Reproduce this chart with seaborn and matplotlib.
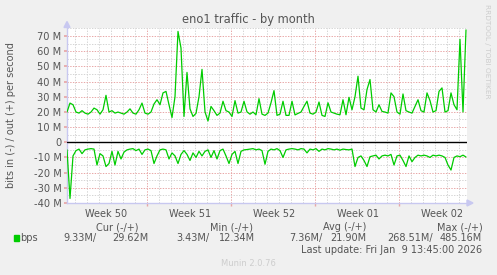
import matplotlib
matplotlib.use("Agg")
import numpy as np
import pandas as pd
import seaborn as sns
import matplotlib.pyplot as plt
from matplotlib.patches import Polygon, Rectangle

# ---------------- data (Mbit/s, one sample every 6 hours) ----------------
step_days = 0.25
out_mbps = [19.9, 25.8, 24.7, 19.9, 19.2, 20.8, 19.2, 18.5, 19.9, 22.5,
            21.4, 18.5, 21.4, 30.9, 19.9, 20.8, 19.2, 19.9, 19.2, 18.5,
            19.9, 22.0, 19.2, 18.5, 21.4, 25.8, 19.2, 18.5, 19.9, 25.2,
            28.0, 24.7, 32.5, 33.5, 24.7, 16.3, 30.0, 73.0, 62.0, 17.0,
            46.0, 22.0, 17.0, 19.0, 30.0, 48.0, 20.0, 14.0, 23.6, 20.8,
            17.7, 19.2, 27.0, 20.8, 19.9, 17.0, 27.4, 19.2, 19.9, 27.0,
            20.0, 18.5, 19.9, 18.1, 28.7, 18.5, 17.7, 19.2, 26.0, 34.0,
            17.7, 18.5, 27.0, 17.7, 17.7, 27.0, 18.0, 19.0, 19.9, 23.6,
            27.0, 19.2, 18.5, 19.9, 26.5, 17.7, 17.0, 26.0, 19.9, 19.2,
            18.5, 18.1, 28.0, 18.1, 29.6, 21.4, 30.0, 43.5, 22.5, 21.4,
            34.7, 41.3, 21.4, 19.9, 24.7, 20.3, 19.9, 19.2, 32.5, 30.0,
            19.9, 18.5, 31.8, 20.8, 19.9, 19.2, 23.6, 28.0, 20.8, 19.9,
            32.5, 27.4, 19.9, 20.8, 33.5, 35.8, 19.9, 20.8, 32.5, 24.7,
            21.4, 67.8, 20.0, 74.0]
in_mbps = [5.0, 37.0, 9.0, 5.5, 4.5, 7.5, 5.0, 4.5, 4.2, 4.5,
           15.0, 7.5, 9.0, 16.0, 14.0, 6.0, 15.0, 6.0, 11.0, 6.5,
           5.0, 4.5, 4.2, 5.5, 4.5, 8.0, 5.0, 4.5, 5.5, 14.0,
           9.0, 5.0, 4.5, 5.0, 11.0, 7.0, 9.0, 14.0, 8.0, 5.5,
           8.0, 12.0, 7.0, 10.0, 6.0, 9.0, 6.0, 5.0, 10.0, 5.5,
           11.0, 5.5, 4.5, 9.0, 14.0, 8.0, 6.0, 14.0, 6.0, 5.0,
           4.8, 4.5, 4.2, 5.0, 4.5, 5.5, 14.5, 6.0, 4.5, 5.0,
           4.2, 5.5, 10.0, 5.0, 4.5, 4.2, 4.5, 5.0, 4.2, 4.5,
           7.0, 4.5, 5.0, 4.2, 6.0, 4.5, 5.0, 4.2, 4.5, 5.0,
           4.5, 5.2, 4.5, 4.8, 5.0, 4.5, 16.0, 10.0, 9.0, 12.0,
           16.0, 9.5, 9.0, 8.5, 11.0, 9.0, 8.5, 9.0, 8.0, 15.0,
           9.0, 8.5, 12.0, 16.0, 9.0, 12.8, 10.0, 8.5, 9.0, 8.5,
           9.0, 10.0, 8.5, 9.0, 8.5, 9.0, 10.0, 15.0, 18.3, 10.0,
           9.0, 9.5, 8.5, 9.7]

week_labels = ["Week 50", "Week 51", "Week 52", "Week 01", "Week 02"]
week_label_days = [3.25, 10.25, 17.25, 24.25, 31.25]
week_start_days = [6.69, 13.69, 20.69, 27.69]
y_ticks = [-40, -30, -20, -10, 0, 10, 20, 30, 40, 50, 60, 70]
y_tick_labels = ["-40 M", "-30 M", "-20 M", "-10 M", "0", "10 M", "20 M",
                 "30 M", "40 M", "50 M", "60 M", "70 M"]

title = "eno1 traffic - by month"
ylabel = "bits in (-) / out (+) per second"
legend_name = "bps"
legend_headers = ["Cur (-/+)", "Min (-/+)", "Avg (-/+)", "Max (-/+)"]
legend_values = [("9.33M/", "29.62M"), ("3.43M/", "12.34M"),
                 ("7.36M/", "21.90M"), ("268.51M/", "485.16M")]
last_update = "Last update: Fri Jan  9 13:45:00 2026"
footer = "Munin 2.0.76"
side_text = "RRDTOOL / TOBI OETIKER"

# ---------------- figure ----------------
sns.set_theme(style="white")
plt.rcParams["font.family"] = ["DejaVu Sans"]

W, H = 497, 275
BG = "#F0F0F0"
TXT = "#555555"
GREEN = "#00CC00"

fig = plt.figure(figsize=(W / 100, H / 100), dpi=100, facecolor=BG)
ax = fig.add_axes([67 / W, 72 / H, 400 / W, 175.4 / H])
ax.set_facecolor("white")

n = len(out_mbps)
days = np.arange(n) * step_days
df = pd.DataFrame({"day": days, "out": out_mbps, "in": -np.asarray(in_mbps)})

x_end = 400 / 12.0
y_lo, y_hi = -40, 75.5

# grid
minor_col = "#D4D4D4"
major_col = "#E8A6A6"
dot = (0, (1.4, 1.4))
for d in np.arange(0.69, x_end, 1.0):
    if not any(abs(d - w) < 0.01 for w in week_start_days):
        ax.axvline(d, color=minor_col, lw=0.7, ls=dot, zorder=1)
for d in week_start_days:
    ax.axvline(d, color=major_col, lw=0.7, ls=dot, zorder=1)
for v in np.arange(-35, 76, 10):
    ax.axhline(v, color=minor_col, lw=0.7, ls=dot, zorder=1)
for v in y_ticks:
    if v != 0:
        ax.axhline(v, color=major_col, lw=0.7, ls=dot, zorder=1)
ax.axhline(0, color="black", lw=1.0, zorder=3)

sns.lineplot(data=df, x="day", y="out", color=GREEN, lw=0.9, ax=ax, zorder=4)
sns.lineplot(data=df, x="day", y="in", color=GREEN, lw=0.9, ax=ax, zorder=4)

ax.set_xlim(0, x_end)
ax.set_ylim(y_lo, y_hi)
ax.set_xlabel("")
ax.set_ylabel("")

ax.set_yticks(y_ticks)
ax.set_yticklabels(y_tick_labels)
ax.set_xticks(week_label_days)
ax.set_xticklabels(week_labels)
ax.set_xticks(week_start_days, minor=True)
ax.tick_params(axis="x", which="major", length=0, pad=4, labelsize=7, labelcolor=TXT)
ax.tick_params(axis="x", which="minor", length=2.5, color=major_col, direction="out", bottom=True)
ax.tick_params(axis="y", which="major", length=2, color=major_col, pad=2,
               labelsize=7.1, labelcolor=TXT, left=True)

for s in ("top", "right"):
    ax.spines[s].set_visible(False)
for s in ("left", "bottom"):
    ax.spines[s].set_color("#C8C8F0")
    ax.spines[s].set_linewidth(1.0)

# axis arrows
def px(x, y):
    return (x / W, 1 - y / H)

fig.add_artist(Polygon([px(64, 27.5), px(70, 27.5), px(67, 21.5)], closed=True,
                       transform=fig.transFigure, color="#C8C8F0"))
fig.add_artist(Polygon([px(467, 200), px(467, 206), px(473, 203)], closed=True,
                       transform=fig.transFigure, color="#C8C8F0"))

# texts
fig.text(248 / W, 1 - 19.5 / H, title, ha="center", va="center", fontsize=8.3, color=TXT)
fig.text(11 / W, 1 - 115 / H, ylabel, rotation=90, ha="center", va="center",
         fontsize=7, color=TXT)
fig.text(487.5 / W, 1 - 51 / H, side_text, rotation=270, ha="center", va="center",
         fontsize=5.3, color="#CDCDCD")

# legend
fig.add_artist(Rectangle(px(14, 241), 5 / W, 6 / H, transform=fig.transFigure,
                         color=GREEN))
fig.text(*px(20, 238), legend_name, ha="left", va="center", fontsize=7, color=TXT)
header_x = [117.5, 231, 345, 460]
for hx, h in zip(header_x, legend_headers):
    fig.text(*px(hx, 227.5), h, ha="center", va="center", fontsize=7, color=TXT)
val_right = [(96.7, 148.3), (209.3, 255), (322.7, 366), (432.7, 482.3)]
for (r1, r2), (a, b) in zip(val_right, legend_values):
    fig.text(*px(r1, 238), a, ha="right", va="center", fontsize=7, color=TXT)
    fig.text(*px(r2, 238), b, ha="right", va="center", fontsize=7, color=TXT)
fig.text(*px(482.3, 250), last_update, ha="right", va="center", fontsize=7, color=TXT)
fig.text(*px(248, 263), footer, ha="center", va="center", fontsize=6, color="#CDCDCD")

fig.savefig("out.png", dpi=100, facecolor=BG)
